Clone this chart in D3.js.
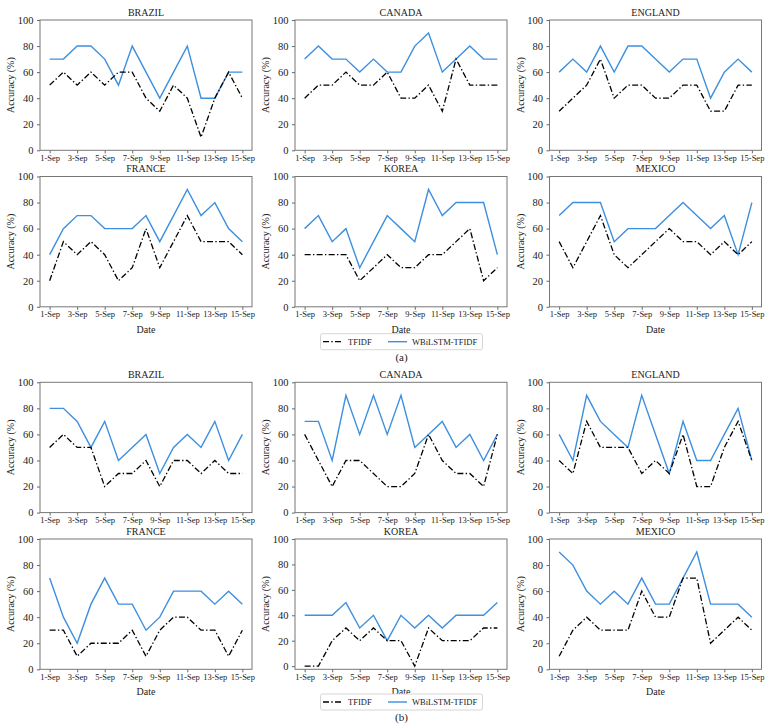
<!DOCTYPE html>
<html><head><meta charset="utf-8">
<script src="https://cdn.jsdelivr.net/npm/d3@7"></script>
<style>body{margin:0;background:#fff}svg{display:block}</style>
</head><body><svg id="c" width="771" height="728"></svg>
<script>
const days = [1,2,3,4,5,6,7,8,9,10,11,12,13,14,15];
const tickDays = [1,3,5,7,9,11,13,15];
const tickLabels = tickDays.map(d => d + "-Sep");
const yTicks = [0,20,40,60,80,100];
const countries = ["BRAZIL","CANADA","ENGLAND","FRANCE","KOREA","MEXICO"];
const seriesNames = ["TFIDF","WBiLSTM-TFIDF"];

// (a)
const aBrazilTfidf  = [50,60,50,60,50,60,60,40,30,50,40,10,40,60,40];
const aBrazilWb     = [70,70,80,80,70,50,80,60,40,60,80,40,40,60,60];
const aCanadaTfidf  = [40,50,50,60,50,50,60,40,40,50,30,70,50,50,50];
const aCanadaWb     = [70,80,70,70,60,70,60,60,80,90,60,70,80,70,70];
const aEnglandTfidf = [30,40,50,70,40,50,50,40,40,50,50,30,30,50,50];
const aEnglandWb    = [60,70,60,80,60,80,80,70,60,70,70,40,60,70,60];
const aFranceTfidf  = [20,50,40,50,40,20,30,60,30,50,70,50,50,50,40];
const aFranceWb     = [40,60,70,70,60,60,60,70,50,70,90,70,80,60,50];
const aKoreaTfidf   = [40,40,40,40,20,30,40,30,30,40,40,50,60,20,30];
const aKoreaWb      = [60,70,50,60,30,50,70,60,50,90,70,80,80,80,40];
const aMexicoTfidf  = [50,30,50,70,40,30,40,50,60,50,50,40,50,40,50];
const aMexicoWb     = [70,80,80,80,50,60,60,60,70,80,70,60,70,40,80];
// (b)
const bBrazilTfidf  = [50,60,50,50,20,30,30,40,20,40,40,30,40,30,30];
const bBrazilWb     = [80,80,70,50,70,40,50,60,30,50,60,50,70,40,60];
const bCanadaTfidf  = [60,40,20,40,40,30,20,20,30,60,40,30,30,20,60];
const bCanadaWb     = [70,70,40,90,60,90,60,90,50,60,70,50,60,40,60];
const bEnglandTfidf = [40,30,70,50,50,50,30,40,30,60,20,20,50,70,40];
const bEnglandWb    = [60,40,90,70,60,50,90,60,30,70,40,40,60,80,40];
const bFranceTfidf  = [30,30,10,20,20,20,30,10,30,40,40,30,30,10,30];
const bFranceWb     = [70,40,20,50,70,50,50,30,40,60,60,60,50,60,50];
const bKoreaTfidf   = [0,0,20,30,20,30,20,20,0,30,20,20,20,30,30];
const bKoreaWb      = [40,40,40,50,30,40,20,40,30,40,30,40,40,40,50];
const bMexicoTfidf  = [10,30,40,30,30,30,60,40,40,70,70,20,30,40,30];
const bMexicoWb     = [90,80,60,50,60,50,70,50,50,70,90,50,50,50,40];

const groupA = [[aBrazilTfidf,aBrazilWb],[aCanadaTfidf,aCanadaWb],[aEnglandTfidf,aEnglandWb],
                [aFranceTfidf,aFranceWb],[aKoreaTfidf,aKoreaWb],[aMexicoTfidf,aMexicoWb]];
const groupB = [[bBrazilTfidf,bBrazilWb],[bCanadaTfidf,bCanadaWb],[bEnglandTfidf,bEnglandWb],
                [bFranceTfidf,bFranceWb],[bKoreaTfidf,bKoreaWb],[bMexicoTfidf,bMexicoWb]];

const FONT = "'Liberation Serif', 'Times New Roman', serif";
const BLUE = "#3d8fe0", BLACK = "#000";
const svg = d3.select("#c");
const colLeft = [40, 295, 549.5], W = 212, H = 130.3;
const rowTop = [20, 176.5, 382.3, 539];

function panel(rowIdx, colIdx, title, data, yMin, showDate) {
  const L = colLeft[colIdx], T = rowTop[rowIdx], B = T + H;
  const x = d3.scaleLinear().domain([0.3, 15.7]).range([L, L + W]);
  const y = d3.scaleLinear().domain([yMin, 100]).range([B, T]);
  const g = svg.append("g");
  const line = d3.line().x((d,i) => x(days[i])).y(d => y(d));
  g.append("path").attr("d", line(data[1])).attr("fill","none").attr("stroke",BLUE).attr("stroke-width",1.4);
  g.append("path").attr("d", line(data[0])).attr("fill","none").attr("stroke",BLACK).attr("stroke-width",1.3)
    .attr("stroke-dasharray","6,2.3,1.4,2.3");
  const xa = g.append("g").attr("transform",`translate(0,${B})`)
    .call(d3.axisBottom(x).tickValues(tickDays).tickFormat((d,i)=>tickLabels[i]).tickSize(3).tickSizeOuter(0));
  xa.selectAll("text").attr("font-size","8.5px").attr("dy","0.55em");
  const ya = g.append("g").attr("transform",`translate(${L},0)`)
    .call(d3.axisLeft(y).tickValues(yTicks).tickSize(3).tickSizeOuter(0));
  ya.selectAll("text").attr("font-size","10.5px").attr("dx","-0.05em");
  [xa, ya].forEach(a => { a.select(".domain").remove(); a.selectAll("line").attr("stroke","#666"); });
  g.append("rect").attr("x",L).attr("y",T).attr("width",W).attr("height",H)
    .attr("fill","none").attr("stroke","#777").attr("stroke-width",1);
  g.append("text").attr("x",L+W/2).attr("y",T-4.5).attr("text-anchor","middle").attr("font-size","10px").text(title);
  g.append("text").attr("transform",`translate(${L-29.5},${T+H/2}) rotate(-90)`).attr("text-anchor","middle")
    .attr("dy","0.35em").attr("font-size","10px").text("Accuracy (%)");
  if (showDate) g.append("text").attr("x",L+W/2).attr("y",B+26).attr("text-anchor","middle").attr("font-size","10px").text("Date");
}

function legend(cy, label, labelY) {
  const g = svg.append("g");
  g.append("rect").attr("x",320.5).attr("y",cy-8).attr("width",162).attr("height",16).attr("rx",2)
    .attr("fill","#fff").attr("stroke","#ccc").attr("stroke-width",0.8);
  g.append("line").attr("x1",323).attr("x2",342).attr("y1",cy).attr("y2",cy).attr("stroke",BLACK)
    .attr("stroke-width",1.3).attr("stroke-dasharray","6,2.3,1.4,2.3");
  g.append("text").attr("x",348).attr("y",cy).attr("dy","0.35em").attr("font-size","8.5px").text(seriesNames[0]);
  g.append("line").attr("x1",388).attr("x2",407).attr("y1",cy).attr("y2",cy).attr("stroke",BLUE).attr("stroke-width",1.4);
  g.append("text").attr("x",412).attr("y",cy).attr("dy","0.35em").attr("font-size","8.5px").text(seriesNames[1]);
  svg.append("text").attr("x",401.5).attr("y",labelY).attr("dy","0.35em").attr("text-anchor","middle").attr("font-size","11px").text(label);
}

groupA.forEach((d,i) => panel(Math.floor(i/3), i%3, countries[i], d, 0, i>=3));
groupB.forEach((d,i) => panel(2+Math.floor(i/3), i%3, countries[i], d, countries[i]==="KOREA" ? -2.5 : 0, i>=3));
legend(341.7, "(a)", 357);
legend(702, "(b)", 717.5);
svg.selectAll("g").attr("font-family", null);
svg.selectAll("text").style("font-family", FONT).style("fill", "#222");
</script></body></html>
